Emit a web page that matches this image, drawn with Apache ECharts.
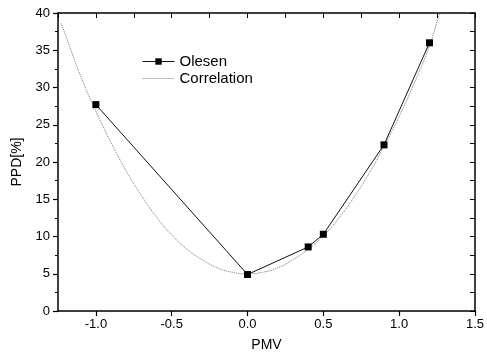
<!DOCTYPE html>
<html lang="en">
<head>
    <meta charset="UTF-8">
    <title>PPD vs PMV</title>
    <script src="https://cdn.jsdelivr.net/npm/echarts@6/dist/echarts.min.js"></script>
    <style>
        html, body { margin: 0; padding: 0; background: #fff; }
        #chart { width: 487px; height: 361px; }
    </style>
</head>
<body>
    <div id="chart"></div>

    <script>
        // Olesen points
        const olesenPMV = [-1.0, 0.0, 0.4, 0.5, 0.9, 1.2];
        const olesenPPD = [27.7, 4.9, 8.6, 10.3, 22.3, 36.0];

        // Correlation curve
        const corrPMV = [-1.23, -1.2, -1.1, -1.0, -0.9, -0.8, -0.7, -0.6, -0.5, -0.4, -0.3, -0.2, -0.1, 0.0,
                         0.1, 0.2, 0.3, 0.4, 0.5, 0.6, 0.7, 0.8, 0.9, 1.0, 1.1, 1.2, 1.26, 1.3];
        const corrPPD = [38.6, 37.0, 31.5, 26.8, 22.6, 18.8, 15.5, 12.6, 10.2, 8.3, 6.9, 5.8, 5.2, 5.0,
                         5.2, 5.8, 6.9, 8.3, 10.1, 12.4, 15.2, 18.4, 22.1, 26.1, 30.6, 35.6, 39.5, 42.0];

        const xTicks = [-1.0, -0.5, 0.0, 0.5, 1.0, 1.5];

        const font = 'Liberation Sans, Arial, sans-serif';
        const axisLine = { show: true, onZero: false, lineStyle: { color: '#000', width: 1.5 } };

        const zip = (xs, ys) => xs.map((x, i) => [x, ys[i]]);

        const chart = echarts.init(document.getElementById('chart'), null, { renderer: 'canvas' });
        chart.setOption({
            animation: false,
            backgroundColor: '#fff',
            grid: { left: 58, right: 10, top: 13, bottom: 50 },
            legend: {
                orient: 'vertical',
                left: 137,
                top: 48,
                itemWidth: 32,
                itemHeight: 8,
                itemGap: 0,
                lineStyle: { width: 1 },
                textStyle: { fontFamily: font, fontSize: 15, lineHeight: 17, color: '#000' },
                data: [
                    'Olesen',
                    { name: 'Correlation', itemStyle: { opacity: 0 } }
                ]
            },
            xAxis: [{
                type: 'value',
                min: -1.25,
                max: 1.5,
                interval: 0.5,
                name: 'PMV',
                nameLocation: 'middle',
                nameGap: 27,
                nameTextStyle: { fontFamily: font, fontSize: 14, color: '#000' },
                axisLine: axisLine,
                axisTick: { show: true, inside: false, length: 5, lineStyle: { color: '#000', width: 1.2 },
                    customValues: xTicks },
                minorTick: { show: true, splitNumber: 2, length: 3, lineStyle: { color: '#000' } },
                axisLabel: {
                    fontFamily: font, fontSize: 13, color: '#000', margin: 7,
                    customValues: xTicks,
                    formatter: v => v.toFixed(1)
                },
                splitLine: { show: false }
            }, {
                type: 'value',
                position: 'top',
                min: -1.25,
                max: 1.5,
                interval: 0.25,
                axisLine: axisLine,
                axisTick: { show: true, inside: true, length: 5, lineStyle: { color: '#000' } },
                axisLabel: { show: false },
                splitLine: { show: false }
            }],
            yAxis: [{
                type: 'value',
                min: 0,
                max: 40,
                interval: 5,
                name: 'PPD[%]',
                nameLocation: 'middle',
                nameGap: 34,
                nameTextStyle: { fontFamily: font, fontSize: 14, color: '#000' },
                axisLine: axisLine,
                axisTick: { show: true, inside: false, length: 5, lineStyle: { color: '#000', width: 1.2 } },
                minorTick: { show: true, splitNumber: 2, length: 3, lineStyle: { color: '#000' } },
                axisLabel: { fontFamily: font, fontSize: 13, color: '#000', margin: 8 },
                splitLine: { show: false }
            }, {
                type: 'value',
                position: 'right',
                min: 0,
                max: 40,
                interval: 2.5,
                axisLine: axisLine,
                axisTick: { show: true, inside: true, length: 5, lineStyle: { color: '#000' } },
                axisLabel: { show: false },
                splitLine: { show: false }
            }],
            series: [{
                name: 'Correlation',
                type: 'line',
                data: zip(corrPMV, corrPPD),
                smooth: true,
                showSymbol: false,
                symbol: 'none',
                clip: true,
                lineStyle: { color: '#777', width: 1, type: [1, 1] },
                itemStyle: { color: '#777' }
            }, {
                name: 'Olesen',
                type: 'line',
                data: zip(olesenPMV, olesenPPD),
                symbol: 'rect',
                symbolSize: 7,
                lineStyle: { color: '#111', width: 1 },
                itemStyle: { color: '#000' }
            }]
        });
    </script>
</body>
</html>
